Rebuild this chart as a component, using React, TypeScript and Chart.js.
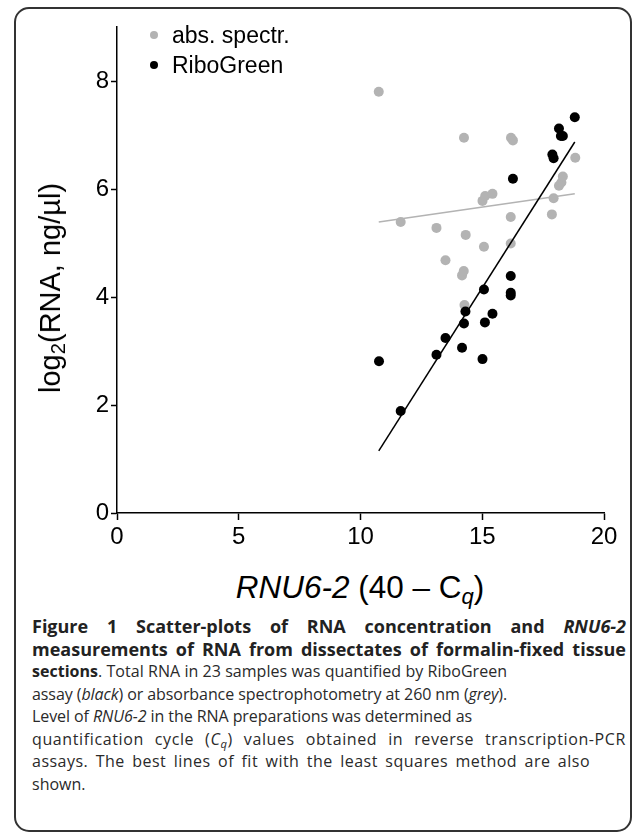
import React, { useEffect, useLayoutEffect, useRef } from "react";
import { Chart, registerables } from "chart.js";

Chart.register(...registerables);

// abs. spectr. (grey)
const absX = [10.75, 11.65, 13.12, 13.49, 14.17, 14.24, 14.27, 14.32, 14.25, 15.01, 15.12, 15.42, 15.07, 16.17, 16.17, 16.18, 16.26, 17.86, 17.93, 18.15, 18.25, 18.31, 18.82];
const absY = [7.8, 5.39, 5.28, 4.68, 4.4, 4.48, 3.85, 5.15, 6.95, 5.78, 5.87, 5.91, 4.93, 5.48, 4.99, 6.95, 6.9, 5.53, 5.83, 6.06, 6.12, 6.23, 6.58];

// RiboGreen (black)
const riboX = [10.76, 11.65, 13.12, 13.49, 14.17, 14.25, 14.31, 15.01, 15.07, 15.11, 15.42, 16.17, 16.17, 16.17, 16.26, 17.88, 17.93, 18.15, 18.23, 18.31, 18.8];
const riboY = [2.81, 1.89, 2.93, 3.24, 3.06, 3.51, 3.73, 2.85, 4.14, 3.53, 3.69, 4.39, 4.08, 4.03, 6.19, 6.64, 6.57, 7.12, 6.98, 6.98, 7.33];

// least-squares fit lines (end points)
const absFitX = [10.75, 18.8];
const absFitY = [5.39, 5.91];
const riboFitX = [10.75, 18.8];
const riboFitY = [1.15, 6.87];

const xTicks = [0, 5, 10, 15, 20];
const yTicks = [0, 2, 4, 6, 8];
const xMin = 0;
const xMax = 20;
const yMin = 0;
const yMax = 9;

const legendLabels = ["abs. spectr.", "RiboGreen"];

const GREY = "#b3b3b3";
const BLACK = "#000000";
const FONT = "'Liberation Sans', Arial, Helvetica, sans-serif";
const CAP_FONT = "'Open Sans', 'Noto Sans', sans-serif";

const pts = (xs: number[], ys: number[]) => xs.map((x, i) => ({ x, y: ys[i] }));

export default function App() {
  const ref = useRef<HTMLCanvasElement | null>(null);
  const lineRefs = useRef<(HTMLSpanElement | null)[]>([]);

  const CAP_LEFT = 32;
  const CAP_W = 594;
  // x positions where the regular caption lines end in the figure (0 = natural)
  const lineEnds = [507, 507, 472, 626, 590, 0];

  useLayoutEffect(() => {
    const fit = () => {
      lineRefs.current.forEach((el, i) => {
        const end = lineEnds[i];
        if (!el || !end) return;
        el.style.letterSpacing = "0px";
        el.style.wordSpacing = "0px";
        const w = el.getBoundingClientRect().width;
        const text = el.textContent || "";
        const n = text.length;
        const spaces = (text.match(/ /g) || []).length;
        const deficit = end - CAP_LEFT - w;
        if (deficit > 0 && spaces > 0) {
          el.style.wordSpacing = (deficit * 0.5) / spaces + "px";
          el.style.letterSpacing = (deficit * 0.5) / n + "px";
        } else {
          el.style.letterSpacing = deficit / n + "px";
        }
      });
    };
    fit();
    const f = (document as any).fonts;
    if (f && f.ready) f.ready.then(fit);
  }, []);

  useEffect(() => {
    document.body.style.margin = "0";
    if (!ref.current) return;
    const chart = new Chart(ref.current, {
      type: "scatter",
      data: {
        datasets: [
          {
            label: legendLabels[1],
            data: pts(riboX, riboY),
            backgroundColor: BLACK,
            borderWidth: 0,
            pointRadius: 5,
            order: 1,
          },
          {
            label: "RiboGreen fit",
            data: pts(riboFitX, riboFitY),
            showLine: true,
            borderColor: BLACK,
            borderWidth: 1.5,
            pointRadius: 0,
            order: 2,
          },
          {
            label: legendLabels[0],
            data: pts(absX, absY),
            backgroundColor: GREY,
            borderWidth: 0,
            pointRadius: 5,
            order: 3,
          },
          {
            label: "abs. spectr. fit",
            data: pts(absFitX, absFitY),
            showLine: true,
            borderColor: GREY,
            borderWidth: 1.5,
            pointRadius: 0,
            order: 4,
          },
        ],
      },
      options: {
        animation: false,
        responsive: false,
        devicePixelRatio: 1,
        layout: { padding: { top: 27, right: 29, left: 0, bottom: 0 } },
        plugins: { legend: { display: false }, tooltip: { enabled: false } },
        scales: {
          x: {
            type: "linear",
            min: xMin,
            max: xMax,
            afterBuildTicks: (s: any) => {
              s.ticks = xTicks.map((v) => ({ value: v }));
            },
            afterFit: (s: any) => {
              s.height = 47;
            },
            ticks: { color: BLACK, font: { family: FONT, size: 24 }, padding: 3, maxRotation: 0 },
            grid: {
              display: true,
              drawOnChartArea: false,
              drawTicks: true,
              tickLength: 7,
              tickColor: BLACK,
              tickWidth: 1.5,
            },
            border: { display: true, color: BLACK, width: 1.5 },
          },
          y: {
            type: "linear",
            min: yMin,
            max: yMax,
            afterBuildTicks: (s: any) => {
              s.ticks = yTicks.map((v) => ({ value: v }));
            },
            afterFit: (s: any) => {
              s.width = 117;
            },
            ticks: { color: BLACK, font: { family: FONT, size: 24 }, padding: 2 },
            grid: {
              display: true,
              drawOnChartArea: false,
              drawTicks: true,
              tickLength: 6,
              tickColor: BLACK,
              tickWidth: 1.5,
            },
            border: { display: true, color: BLACK, width: 1.5 },
          },
        },
      },
    });
    return () => chart.destroy();
  }, []);

  const dot = (color: string, top: number) => (
    <div
      style={{
        position: "absolute",
        left: 150,
        top: top - 4,
        width: 8,
        height: 8,
        borderRadius: "50%",
        background: color,
      }}
    />
  );

  const lineStyle: React.CSSProperties = {
    height: 22.5,
    lineHeight: "22.5px",
    whiteSpace: "nowrap",
  };
  const justified = (width: number): React.CSSProperties => ({
    ...lineStyle,
    width,
    textAlign: "justify",
    textAlignLast: "justify" as any,
  });
  const bold: React.CSSProperties = { fontWeight: 700, color: "#222", fontSize: 18 };
  const sub: React.CSSProperties = { fontSize: "70%", verticalAlign: "-0.25em", lineHeight: 0 };
  const setRef = (i: number) => (el: HTMLSpanElement | null) => {
    lineRefs.current[i] = el;
  };

  return (
    <div
      style={{
        position: "fixed",
        left: 0,
        top: 0,
        width: 633,
        height: 833,
        background: "#fff",
        overflow: "hidden",
      }}
    >
      <div
        style={{
          position: "absolute",
          left: 14,
          top: 7,
          width: 618,
          height: 825,
          boxSizing: "border-box",
          border: "2px solid #333",
          borderRadius: 15,
        }}
      />
      <canvas ref={ref} width={633} height={560} style={{ position: "absolute", left: 0, top: 0 }} />

      {/* legend */}
      {dot(GREY, 35)}
      {dot(BLACK, 65)}
      <div
        style={{
          position: "absolute",
          left: 172,
          top: 35 - 14,
          fontFamily: FONT,
          fontSize: 23,
          lineHeight: "28px",
          color: "#000",
          whiteSpace: "nowrap",
        }}
      >
        {legendLabels[0]}
      </div>
      <div
        style={{
          position: "absolute",
          left: 172,
          top: 65 - 14,
          fontFamily: FONT,
          fontSize: 23,
          lineHeight: "28px",
          color: "#000",
          whiteSpace: "nowrap",
        }}
      >
        {legendLabels[1]}
      </div>

      {/* y title */}
      <div
        style={{
          position: "absolute",
          left: 50,
          top: 288,
          transform: "translate(-50%, -50%) rotate(-90deg)",
          fontFamily: FONT,
          fontSize: 29,
          lineHeight: "34px",
          whiteSpace: "nowrap",
          color: "#000",
        }}
      >
        log<span style={sub}>2</span>(RNA, ng/µl)
      </div>

      {/* x title */}
      <div
        style={{
          position: "absolute",
          left: 360,
          top: 587,
          transform: "translate(-50%, -50%)",
          fontFamily: FONT,
          fontSize: 31.5,
          lineHeight: "34px",
          whiteSpace: "nowrap",
          color: "#000",
        }}
      >
        <i>RNU6-2</i> (40 – C<span style={sub}><i>q</i></span>)
      </div>

      {/* caption */}
      <div
        style={{
          position: "absolute",
          left: CAP_LEFT,
          top: 615,
          width: CAP_W,
          fontFamily: CAP_FONT,
          fontSize: 16,
          color: "#2a2a2a",
        }}
      >
        <div style={{ ...justified(CAP_W), ...bold }}>
          Figure 1 Scatter-plots of RNA concentration and <i>RNU6-2</i>
        </div>
        <div style={{ ...justified(CAP_W), ...bold }}>
          measurements of RNA from dissectates of formalin-fixed tissue
        </div>
        <div style={lineStyle}>
          <span ref={setRef(0)}>
            <b style={{ color: "#222" }}>sections</b>. Total RNA in 23 samples was quantified by RiboGreen
          </span>
        </div>
        <div style={lineStyle}>
          <span ref={setRef(1)}>
            assay (<i>black</i>) or absorbance spectrophotometry at 260 nm (<i>grey</i>).
          </span>
        </div>
        <div style={lineStyle}>
          <span ref={setRef(2)}>
            Level of <i>RNU6-2</i> in the RNA preparations was determined as
          </span>
        </div>
        <div style={lineStyle}>
          <span ref={setRef(3)}>
            quantification cycle (<i>C<span style={sub}>q</span></i>) values obtained in reverse transcription-PCR
          </span>
        </div>
        <div style={lineStyle}>
          <span ref={setRef(4)}>assays. The best lines of fit with the least squares method are also</span>
        </div>
        <div style={lineStyle}>
          <span ref={setRef(5)}>shown.</span>
        </div>
      </div>
    </div>
  );
}
